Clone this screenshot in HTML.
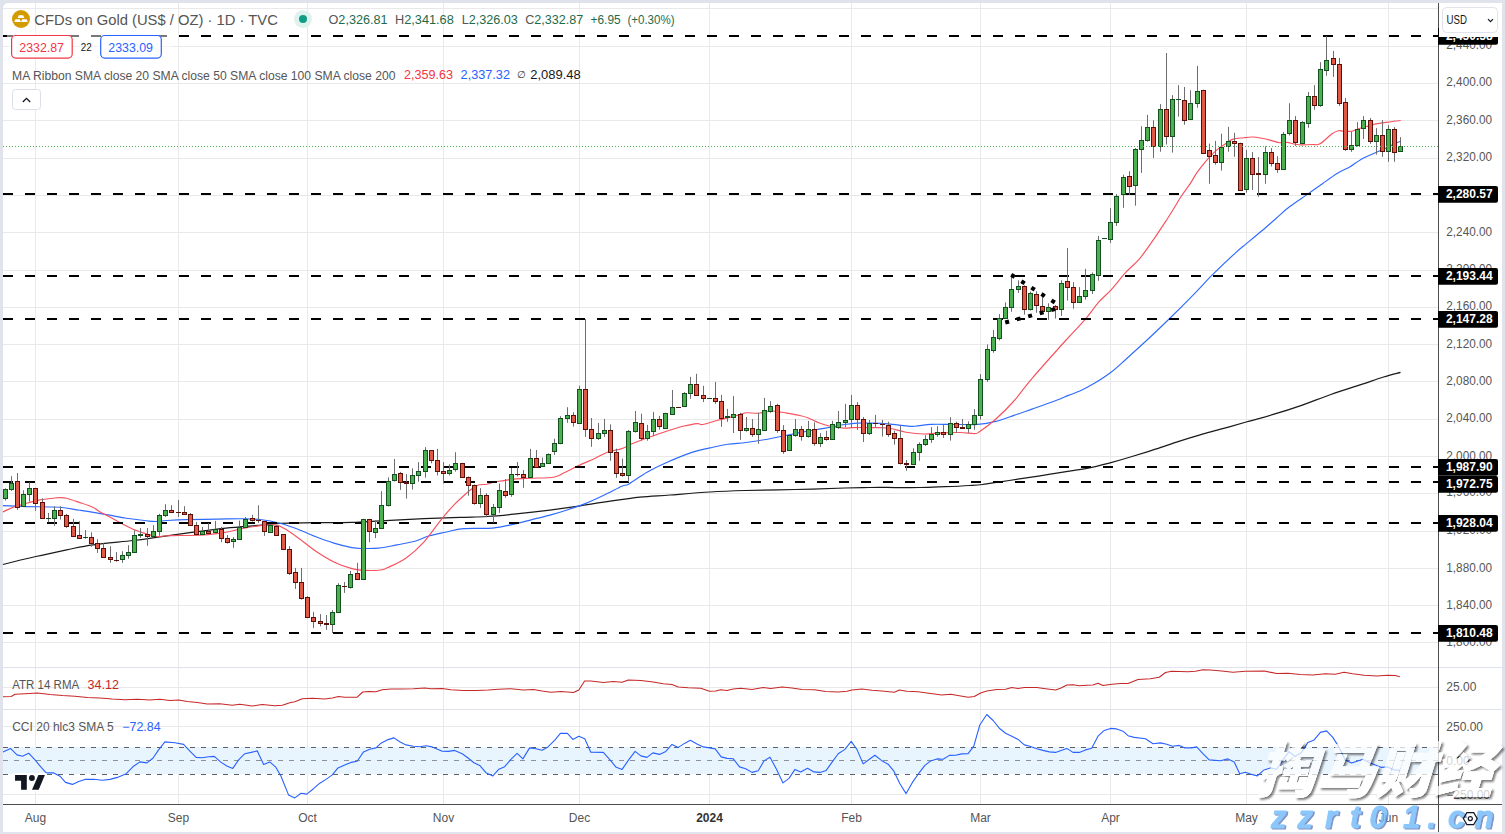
<!DOCTYPE html>
<html><head><meta charset="utf-8"><title>CFDs on Gold</title>
<style>
html,body{margin:0;padding:0}
body{width:1505px;height:834px;overflow:hidden;background:#e0e3eb;position:relative;font-family:"Liberation Sans","Noto Sans CJK SC",sans-serif}
#card{position:absolute;left:3px;top:3px;width:1499px;height:829px;background:#fff;border-radius:5px 5px 0 0}
svg{position:absolute;left:0;top:0}
</style></head><body>
<div id="card"></div>
<svg width="1505" height="834" viewBox="0 0 1505 834" shape-rendering="auto">
<line x1="3" x2="1438" y1="642.5" y2="642.5" stroke="#e9e9ea"/>
<line x1="3" x2="1438" y1="605.5" y2="605.5" stroke="#e9e9ea"/>
<line x1="3" x2="1438" y1="568.5" y2="568.5" stroke="#e9e9ea"/>
<line x1="3" x2="1438" y1="531.5" y2="531.5" stroke="#e9e9ea"/>
<line x1="3" x2="1438" y1="493.5" y2="493.5" stroke="#e9e9ea"/>
<line x1="3" x2="1438" y1="456.5" y2="456.5" stroke="#e9e9ea"/>
<line x1="3" x2="1438" y1="419.5" y2="419.5" stroke="#e9e9ea"/>
<line x1="3" x2="1438" y1="381.5" y2="381.5" stroke="#e9e9ea"/>
<line x1="3" x2="1438" y1="344.5" y2="344.5" stroke="#e9e9ea"/>
<line x1="3" x2="1438" y1="307.5" y2="307.5" stroke="#e9e9ea"/>
<line x1="3" x2="1438" y1="270.5" y2="270.5" stroke="#e9e9ea"/>
<line x1="3" x2="1438" y1="232.5" y2="232.5" stroke="#e9e9ea"/>
<line x1="3" x2="1438" y1="195.5" y2="195.5" stroke="#e9e9ea"/>
<line x1="3" x2="1438" y1="158.5" y2="158.5" stroke="#e9e9ea"/>
<line x1="3" x2="1438" y1="120.5" y2="120.5" stroke="#e9e9ea"/>
<line x1="3" x2="1438" y1="83.5" y2="83.5" stroke="#e9e9ea"/>
<line x1="3" x2="1438" y1="46.5" y2="46.5" stroke="#e9e9ea"/>
<line x1="3" x2="1438" y1="8.5" y2="8.5" stroke="#e9e9ea"/>
<line x1="3" x2="1438" y1="687.5" y2="687.5" stroke="#e9e9ea"/>
<line x1="3" x2="1438" y1="726.5" y2="726.5" stroke="#e9e9ea"/>
<line x1="3" x2="1438" y1="794.5" y2="794.5" stroke="#e9e9ea"/>
<line x1="35.5" x2="35.5" y1="3" y2="804" stroke="#e9e9ea"/>
<line x1="178.5" x2="178.5" y1="3" y2="804" stroke="#e9e9ea"/>
<line x1="307.5" x2="307.5" y1="3" y2="804" stroke="#e9e9ea"/>
<line x1="443.5" x2="443.5" y1="3" y2="804" stroke="#e9e9ea"/>
<line x1="579.5" x2="579.5" y1="3" y2="804" stroke="#e9e9ea"/>
<line x1="709.5" x2="709.5" y1="3" y2="804" stroke="#e9e9ea"/>
<line x1="851.5" x2="851.5" y1="3" y2="804" stroke="#e9e9ea"/>
<line x1="980.5" x2="980.5" y1="3" y2="804" stroke="#e9e9ea"/>
<line x1="1110.5" x2="1110.5" y1="3" y2="804" stroke="#e9e9ea"/>
<line x1="1246.5" x2="1246.5" y1="3" y2="804" stroke="#e9e9ea"/>
<line x1="1388.5" x2="1388.5" y1="3" y2="804" stroke="#e9e9ea"/>
<line x1="3" x2="1502" y1="667.5" y2="667.5" stroke="#dfe2ea"/>
<line x1="3" x2="1502" y1="709.5" y2="709.5" stroke="#dfe2ea"/>
<rect x="3" y="747" width="1435" height="27" fill="#e8f4fe"/>
<line x1="3" x2="1438" y1="747.5" y2="747.5" stroke="#5d606b" stroke-width="1" stroke-dasharray="5 6"/>
<line x1="3" x2="1438" y1="760.5" y2="760.5" stroke="#8d9098" stroke-width="1" stroke-dasharray="5 6"/>
<line x1="3" x2="1438" y1="774.5" y2="774.5" stroke="#5d606b" stroke-width="1" stroke-dasharray="5 6"/>
<path d="M2.9 564.5 C8.4 563.1 25.3 558.9 35.9 556.5 C46.5 554.0 57.0 551.8 66.5 549.8 C76.1 547.9 82.1 546.3 93.1 544.8 C104.2 543.2 122.0 541.8 133.1 540.5 C144.2 539.2 150.2 538.2 159.7 536.9 C169.2 535.6 179.0 534.1 190.0 532.6 C201.0 531.2 214.0 529.4 226.0 528.1 C238.0 526.9 252.9 525.9 261.9 525.1 C270.9 524.3 270.9 523.7 279.9 523.3 C288.9 522.9 303.9 522.9 315.9 522.7 C327.9 522.6 341.1 522.7 351.9 522.4 C362.7 522.1 368.8 521.5 380.8 520.9 C392.8 520.3 410.8 519.3 424.0 518.7 C437.1 518.1 449.4 517.6 459.9 517.3 C470.4 516.9 477.9 517.1 486.9 516.5 C495.9 516.0 503.4 515.3 513.9 514.2 C524.4 513.1 539.1 511.4 549.9 510.1 C560.6 508.7 569.6 507.4 578.6 506.1 C587.6 504.8 593.6 503.7 603.8 502.2 C614.0 500.7 628.8 498.3 639.8 497.1 C650.8 495.9 658.3 495.9 670.0 495.0 C681.7 494.1 697.5 492.8 710.0 492.0 C722.5 491.2 730.8 490.9 745.0 490.5 C759.2 490.1 778.3 489.9 795.0 489.5 C811.7 489.1 832.5 488.3 845.0 488.0 C857.5 487.7 861.7 487.6 870.0 487.5 C878.3 487.4 886.7 487.5 895.0 487.5 C903.3 487.5 911.7 487.6 920.0 487.5 C928.3 487.4 936.7 487.0 945.0 486.7 C953.3 486.4 963.8 485.9 970.0 485.5 C976.2 485.1 978.2 485.0 982.5 484.5 C986.8 484.0 991.5 483.2 996.0 482.5 C1000.5 481.8 1002.1 481.6 1009.2 480.5 C1016.3 479.4 1028.8 477.6 1038.5 476.1 C1048.2 474.6 1059.4 472.7 1067.7 471.4 C1076.0 470.1 1081.1 469.6 1088.2 468.2 C1095.3 466.8 1102.8 464.8 1110.1 462.9 C1117.4 460.9 1124.5 458.8 1132.0 456.5 C1139.5 454.2 1147.6 451.7 1155.4 449.2 C1163.2 446.7 1171.5 443.6 1178.8 441.3 C1186.1 439.0 1192.0 437.2 1199.3 435.1 C1206.6 433.0 1214.9 430.9 1222.7 428.7 C1230.5 426.5 1237.8 424.3 1246.1 422.0 C1254.4 419.7 1263.2 417.5 1272.4 414.7 C1281.7 411.9 1291.8 408.7 1301.6 405.3 C1311.3 401.9 1321.2 397.9 1330.9 394.5 C1340.7 391.1 1351.3 387.8 1360.1 384.9 C1368.9 382.0 1376.8 379.1 1383.5 377.0 C1390.2 374.9 1397.7 373.1 1400.5 372.3" fill="none" stroke="#1a1a1a" stroke-width="1.25" stroke-linejoin="round" />
<path d="M2.9 505.6 C6.9 505.8 17.1 506.3 26.6 506.6 C36.1 506.8 51.0 506.6 59.9 507.2 C68.8 507.9 72.1 509.1 79.8 510.3 C87.6 511.5 98.7 513.2 106.5 514.6 C114.2 515.9 119.8 517.2 126.4 518.3 C133.1 519.3 141.5 520.3 146.4 520.8 C151.3 521.3 152.4 521.5 155.7 521.5 C159.0 521.4 161.2 520.9 166.3 520.5 C171.4 520.2 177.9 519.8 186.3 519.6 C194.7 519.4 207.4 519.3 217.0 519.1 C226.6 519.0 236.5 518.7 244.0 518.8 C251.5 518.9 255.9 518.9 261.9 519.7 C267.9 520.4 273.9 521.7 279.9 523.3 C285.9 524.9 291.9 527.0 297.9 529.2 C303.9 531.5 309.9 534.5 315.9 536.8 C321.9 539.1 327.9 541.3 333.9 543.1 C339.9 544.9 347.1 546.7 351.9 547.6 C356.7 548.5 358.2 548.4 362.7 548.5 C367.2 548.5 373.2 548.7 378.8 548.1 C384.5 547.5 390.8 546.0 396.8 544.9 C402.8 543.7 409.4 542.8 414.8 541.3 C420.2 539.7 424.2 537.3 429.4 535.8 C434.5 534.3 439.8 533.4 445.5 532.2 C451.2 531.0 455.7 529.3 463.5 528.6 C471.3 527.9 483.9 528.8 492.3 528.1 C500.7 527.3 507.3 525.5 513.9 524.1 C520.5 522.7 525.9 521.1 531.9 519.6 C537.9 518.1 543.9 516.8 549.9 515.1 C555.9 513.5 561.8 511.7 567.8 509.7 C573.8 507.8 579.8 505.8 585.8 503.4 C591.8 501.0 597.8 498.2 603.8 495.3 C609.8 492.5 617.6 488.2 621.8 486.3 C626.0 484.4 624.8 486.2 629.0 483.9 C633.2 481.5 641.0 475.6 647.0 472.2 C653.0 468.7 657.5 466.5 665.0 463.2 C672.5 459.9 684.4 455.0 691.9 452.4 C699.4 449.9 703.9 449.3 709.9 447.9 C715.9 446.6 721.9 445.2 727.9 444.3 C733.9 443.4 739.9 443.3 745.9 442.5 C751.9 441.8 757.9 440.9 763.9 439.8 C769.9 438.8 775.9 437.4 781.9 436.2 C787.9 435.0 793.9 433.8 799.9 432.6 C805.9 431.5 812.7 430.3 817.8 429.4 C822.9 428.5 825.9 428.0 830.4 427.2 C834.9 426.4 840.3 425.2 844.8 424.5 C849.3 423.8 852.9 423.3 857.4 423.1 C861.9 422.9 866.7 423.0 871.8 423.1 C876.9 423.2 882.3 423.4 888.0 423.9 C893.7 424.3 901.5 425.5 906.0 425.9 C910.5 426.3 910.8 426.5 915.0 426.2 C919.2 426.0 925.2 424.7 931.2 424.4 C937.1 424.1 943.1 424.4 950.9 424.4 C958.7 424.4 970.4 424.9 977.9 424.4 C985.4 423.9 989.9 422.9 995.9 421.4 C1001.9 419.9 1007.9 417.5 1013.9 415.4 C1019.9 413.4 1025.9 411.2 1031.9 409.1 C1037.9 407.0 1043.9 405.1 1049.9 402.8 C1055.9 400.6 1062.7 397.7 1067.8 395.6 C1072.9 393.6 1075.9 392.9 1080.4 390.8 C1084.9 388.7 1089.7 386.1 1094.8 383.1 C1099.9 380.0 1105.9 376.2 1111.0 372.3 C1116.1 368.4 1119.4 365.1 1125.4 359.7 C1131.4 354.3 1139.8 346.7 1147.1 340.0 C1154.3 333.3 1160.8 327.1 1168.6 319.5 C1176.4 311.9 1186.6 301.7 1193.8 294.3 C1201.0 287.0 1204.9 282.3 1211.8 275.4 C1218.7 268.6 1229.2 258.6 1235.0 253.3 C1240.8 248.0 1242.2 247.2 1246.7 243.4 C1251.2 239.7 1257.0 235.0 1261.9 230.8 C1266.8 226.6 1271.7 222.2 1276.3 218.2 C1280.9 214.1 1284.4 210.6 1289.8 206.5 C1295.2 202.4 1303.2 197.3 1308.7 193.4 C1314.2 189.5 1318.3 186.5 1323.1 183.2 C1327.9 179.8 1333.1 176.0 1337.5 173.3 C1341.9 170.6 1346.6 168.8 1349.7 167.0 C1352.8 165.2 1353.6 164.2 1356.0 162.7 C1358.4 161.2 1360.7 159.5 1364.0 157.8 C1367.3 156.1 1372.7 154.1 1376.0 152.6 C1379.3 151.1 1381.3 150.3 1384.0 149.0 C1386.7 147.7 1389.3 146.3 1392.0 145.0 C1394.7 143.7 1398.7 142.0 1400.0 141.4" fill="none" stroke="#2f6bff" stroke-width="1.15" stroke-linejoin="round" />
<path d="M2.9 511.9 C4.7 511.1 9.4 508.7 13.3 507.2 C17.3 505.8 22.2 504.5 26.6 503.2 C31.0 502.0 35.5 500.8 39.9 499.9 C44.4 499.1 49.9 498.6 53.2 498.2 C56.6 497.8 57.7 497.6 59.9 497.7 C62.1 497.7 63.2 497.5 66.5 498.3 C69.9 499.1 75.4 501.1 79.8 502.6 C84.3 504.1 89.6 505.8 93.1 507.5 C96.7 509.2 98.9 511.3 101.1 512.6 C103.3 513.8 103.3 513.6 106.5 515.2 C109.6 516.9 115.3 520.2 119.8 522.5 C124.2 524.9 128.6 527.3 133.1 529.2 C137.5 531.1 142.4 532.6 146.4 533.9 C150.4 535.1 153.7 536.2 157.0 536.5 C160.3 536.8 162.6 536.0 166.3 535.8 C170.1 535.7 175.7 535.5 179.6 535.4 C183.6 535.4 185.3 535.6 190.0 535.5 C194.7 535.4 202.0 535.1 208.0 534.6 C214.0 534.1 220.0 533.3 226.0 532.3 C232.0 531.2 238.0 529.4 244.0 528.3 C250.0 527.2 256.5 526.0 261.9 525.4 C267.3 524.9 272.7 524.6 276.3 525.1 C279.9 525.5 279.9 526.0 283.5 528.1 C287.1 530.2 292.5 533.8 297.9 537.7 C303.3 541.5 309.9 547.1 315.9 551.2 C321.9 555.2 327.9 559.0 333.9 561.9 C339.9 564.9 346.8 567.2 351.9 568.6 C357.0 570.0 359.7 570.2 364.5 570.4 C369.3 570.6 376.8 570.5 380.6 570.0 C384.5 569.6 383.6 569.5 387.8 567.5 C392.0 565.6 399.8 562.6 405.8 558.3 C411.8 554.1 417.8 548.8 423.8 542.2 C429.8 535.6 436.7 525.1 441.8 518.8 C446.9 512.5 450.3 508.7 454.5 504.3 C458.8 500.0 464.0 495.4 467.1 492.6 C470.2 489.9 471.3 489.2 473.2 487.9 C475.2 486.7 476.4 485.6 478.6 485.0 C480.9 484.4 484.0 484.7 486.9 484.2 C489.8 483.6 491.4 482.7 495.9 481.8 C500.4 481.0 507.9 479.7 513.9 479.1 C519.9 478.5 525.3 478.5 531.9 478.2 C538.5 477.9 548.1 478.2 553.5 477.3 C558.8 476.4 560.0 474.8 564.2 472.8 C568.4 470.9 573.5 468.0 578.6 465.6 C583.7 463.2 590.0 460.7 594.8 458.5 C599.6 456.2 602.9 453.8 607.4 452.2 C611.9 450.5 617.9 449.9 621.8 448.6 C625.7 447.3 626.6 446.1 630.8 444.3 C635.0 442.6 641.3 440.1 647.0 438.0 C652.7 435.9 659.0 433.7 665.0 431.7 C671.0 429.8 677.6 427.7 682.9 426.3 C688.3 425.0 694.0 423.9 697.3 423.6 C700.6 423.3 699.1 425.1 702.7 424.5 C706.3 423.9 713.2 421.5 718.9 420.0 C724.6 418.5 732.4 416.7 736.9 415.5 C741.4 414.3 742.3 413.2 745.9 412.8 C749.5 412.5 754.0 413.5 758.5 413.2 C763.0 412.9 769.0 411.2 772.9 411.0 C776.8 410.9 777.4 411.6 781.9 412.3 C786.4 413.1 795.4 414.6 799.9 415.5 C804.4 416.5 805.9 417.1 808.8 418.2 C811.8 419.4 814.2 421.0 817.8 422.4 C821.4 423.7 825.9 425.4 830.4 426.3 C834.9 427.3 840.9 427.9 844.8 428.1 C848.7 428.3 849.3 427.7 853.8 427.6 C858.3 427.5 866.1 427.5 871.8 427.6 C877.5 427.7 882.3 427.3 888.0 428.0 C893.7 428.8 900.0 431.2 906.0 432.2 C912.0 433.1 918.0 433.8 924.0 434.0 C930.0 434.1 935.9 433.1 941.9 432.9 C947.9 432.6 954.5 432.4 959.9 432.5 C965.3 432.6 971.0 433.7 974.3 433.6 C977.6 433.4 976.1 434.0 979.7 431.6 C983.3 429.2 990.2 424.1 995.9 419.0 C1001.6 413.9 1007.9 407.8 1013.9 401.0 C1019.9 394.3 1023.2 388.7 1031.9 378.6 C1040.6 368.4 1057.1 350.0 1066.1 340.0 C1075.1 330.0 1080.5 324.9 1085.9 318.6 C1091.3 312.3 1094.3 307.2 1098.5 302.4 C1102.7 297.6 1106.6 294.8 1111.1 289.8 C1115.6 284.9 1120.7 278.0 1125.5 272.7 C1130.3 267.5 1135.1 264.0 1139.9 258.3 C1144.7 252.6 1149.7 245.0 1154.2 238.6 C1158.7 232.1 1163.2 225.2 1166.8 219.7 C1170.4 214.1 1173.5 209.1 1175.8 205.3 C1178.2 201.5 1178.6 200.2 1180.9 196.7 C1183.3 193.2 1187.2 188.1 1189.9 184.1 C1192.6 180.1 1194.1 176.6 1197.1 172.4 C1200.1 168.2 1204.6 162.7 1207.9 158.9 C1211.2 155.2 1213.9 152.5 1216.9 149.9 C1219.9 147.4 1223.2 145.4 1225.9 143.6 C1228.6 141.8 1230.1 140.1 1233.1 139.1 C1236.1 138.1 1240.6 138.1 1243.9 137.7 C1247.2 137.3 1249.9 136.9 1252.9 137.0 C1255.9 137.1 1258.9 137.7 1261.9 138.2 C1264.9 138.8 1267.9 139.6 1270.9 140.4 C1273.9 141.1 1277.2 142.4 1279.9 142.7 C1282.6 143.1 1284.7 142.2 1287.1 142.4 C1289.4 142.6 1291.8 143.6 1294.2 144.0 C1296.6 144.4 1298.4 144.8 1301.4 144.9 C1304.4 145.0 1309.1 144.7 1312.2 144.5 C1315.3 144.4 1316.7 145.6 1320.0 143.8 C1323.3 142.0 1328.9 135.9 1332.0 133.7 C1335.1 131.5 1336.6 131.1 1338.5 130.7 C1340.4 130.3 1341.0 131.1 1343.3 131.2 C1345.5 131.3 1349.9 131.4 1352.0 131.2 C1354.1 130.9 1354.4 130.3 1356.0 129.7 C1357.6 129.1 1359.8 128.3 1361.8 127.7 C1363.8 127.1 1365.6 126.7 1368.0 126.1 C1370.4 125.5 1372.7 124.6 1376.0 123.9 C1379.3 123.2 1383.9 122.7 1388.0 122.1 C1392.1 121.5 1398.6 120.8 1400.7 120.5" fill="none" stroke="#f7525f" stroke-width="1.15" stroke-linejoin="round" />
<line x1="3" x2="1438" y1="36" y2="36" stroke="#000" stroke-width="2" stroke-dasharray="10 12"/>
<line x1="3" x2="1438" y1="194" y2="194" stroke="#000" stroke-width="2" stroke-dasharray="10 12"/>
<line x1="3" x2="1438" y1="276" y2="276" stroke="#000" stroke-width="2" stroke-dasharray="10 12"/>
<line x1="3" x2="1438" y1="319" y2="319" stroke="#000" stroke-width="2" stroke-dasharray="10 12"/>
<line x1="3" x2="1438" y1="467" y2="467" stroke="#000" stroke-width="2" stroke-dasharray="10 12"/>
<line x1="3" x2="1438" y1="482" y2="482" stroke="#000" stroke-width="2" stroke-dasharray="10 12"/>
<line x1="3" x2="1438" y1="523" y2="523" stroke="#000" stroke-width="2" stroke-dasharray="10 12"/>
<line x1="3" x2="1438" y1="633" y2="633" stroke="#000" stroke-width="2" stroke-dasharray="10 12"/>
<line x1="5.5" x2="5.5" y1="488.3" y2="500.6" stroke="#6e6e70"/>
<rect x="3.5" y="489.5" width="4" height="9" fill="#4caf50" stroke="#14501f"/>
<line x1="11.5" x2="11.5" y1="476.2" y2="490.9" stroke="#6e6e70"/>
<rect x="9.5" y="483.5" width="4" height="6" fill="#4caf50" stroke="#14501f"/>
<line x1="17.5" x2="17.5" y1="473.0" y2="509.9" stroke="#6e6e70"/>
<rect x="15.5" y="481.5" width="4" height="26" fill="#df5946" stroke="#5a0f08"/>
<line x1="23.5" x2="23.5" y1="490.3" y2="507.0" stroke="#6e6e70"/>
<rect x="21.5" y="494.5" width="4" height="12" fill="#4caf50" stroke="#14501f"/>
<line x1="29.5" x2="29.5" y1="482.4" y2="501.5" stroke="#6e6e70"/>
<rect x="27.5" y="488.5" width="4" height="6" fill="#4caf50" stroke="#14501f"/>
<line x1="35.5" x2="35.5" y1="487.9" y2="510.8" stroke="#6e6e70"/>
<rect x="33.5" y="488.5" width="4" height="15" fill="#df5946" stroke="#5a0f08"/>
<line x1="42.5" x2="42.5" y1="498.3" y2="519.0" stroke="#6e6e70"/>
<rect x="40.5" y="502.5" width="4" height="16" fill="#df5946" stroke="#5a0f08"/>
<line x1="48.5" x2="48.5" y1="513.0" y2="522.3" stroke="#6e6e70"/>
<rect x="46" y="518" width="5" height="1" fill="#14501f"/>
<line x1="54.5" x2="54.5" y1="506.3" y2="525.9" stroke="#6e6e70"/>
<rect x="52.5" y="510.5" width="4" height="8" fill="#4caf50" stroke="#14501f"/>
<line x1="60.5" x2="60.5" y1="506.3" y2="519.6" stroke="#6e6e70"/>
<rect x="58.5" y="510.5" width="4" height="5" fill="#df5946" stroke="#5a0f08"/>
<line x1="66.5" x2="66.5" y1="513.9" y2="527.9" stroke="#6e6e70"/>
<rect x="64.5" y="515.5" width="4" height="11" fill="#df5946" stroke="#5a0f08"/>
<line x1="73.5" x2="73.5" y1="518.9" y2="537.0" stroke="#6e6e70"/>
<rect x="71.5" y="526.5" width="4" height="10" fill="#df5946" stroke="#5a0f08"/>
<line x1="79.5" x2="79.5" y1="521.2" y2="539.0" stroke="#6e6e70"/>
<rect x="77.5" y="535.5" width="4" height="3" fill="#df5946" stroke="#5a0f08"/>
<line x1="85.5" x2="85.5" y1="530.1" y2="538.8" stroke="#6e6e70"/>
<rect x="83" y="537" width="5" height="1" fill="#14501f"/>
<line x1="91.5" x2="91.5" y1="532.3" y2="546.8" stroke="#6e6e70"/>
<rect x="89.5" y="537.5" width="4" height="6" fill="#df5946" stroke="#5a0f08"/>
<line x1="97.5" x2="97.5" y1="539.2" y2="552.9" stroke="#6e6e70"/>
<rect x="95.5" y="543.5" width="4" height="5" fill="#df5946" stroke="#5a0f08"/>
<line x1="103.5" x2="103.5" y1="543.2" y2="558.0" stroke="#6e6e70"/>
<rect x="101.5" y="548.5" width="4" height="9" fill="#df5946" stroke="#5a0f08"/>
<line x1="110.5" x2="110.5" y1="546.2" y2="562.9" stroke="#6e6e70"/>
<rect x="108.5" y="557.5" width="4" height="2" fill="#df5946" stroke="#5a0f08"/>
<line x1="116.5" x2="116.5" y1="552.1" y2="561.8" stroke="#6e6e70"/>
<rect x="114" y="560" width="5" height="1" fill="#5a0f08"/>
<line x1="122.5" x2="122.5" y1="551.2" y2="562.9" stroke="#6e6e70"/>
<rect x="120.5" y="555.5" width="4" height="4" fill="#4caf50" stroke="#14501f"/>
<line x1="128.5" x2="128.5" y1="545.2" y2="558.7" stroke="#6e6e70"/>
<rect x="126.5" y="552.5" width="4" height="3" fill="#4caf50" stroke="#14501f"/>
<line x1="134.5" x2="134.5" y1="530.3" y2="553.0" stroke="#6e6e70"/>
<rect x="132.5" y="535.5" width="4" height="17" fill="#4caf50" stroke="#14501f"/>
<line x1="140.5" x2="140.5" y1="528.1" y2="537.8" stroke="#6e6e70"/>
<rect x="138" y="534" width="5" height="2" fill="#14501f"/>
<line x1="147.5" x2="147.5" y1="528.1" y2="545.8" stroke="#6e6e70"/>
<rect x="145.5" y="534.5" width="4" height="2" fill="#df5946" stroke="#5a0f08"/>
<line x1="153.5" x2="153.5" y1="525.2" y2="537.0" stroke="#6e6e70"/>
<rect x="151.5" y="531.5" width="4" height="5" fill="#4caf50" stroke="#14501f"/>
<line x1="159.5" x2="159.5" y1="513.9" y2="535.8" stroke="#6e6e70"/>
<rect x="157.5" y="515.5" width="4" height="16" fill="#4caf50" stroke="#14501f"/>
<line x1="165.5" x2="165.5" y1="504.2" y2="517.0" stroke="#6e6e70"/>
<rect x="163.5" y="510.5" width="4" height="5" fill="#4caf50" stroke="#14501f"/>
<line x1="171.5" x2="171.5" y1="505.2" y2="513.0" stroke="#6e6e70"/>
<rect x="169.5" y="510.5" width="4" height="2" fill="#df5946" stroke="#5a0f08"/>
<line x1="178.5" x2="178.5" y1="499.9" y2="517.0" stroke="#6e6e70"/>
<rect x="176" y="512" width="5" height="1" fill="#5a0f08"/>
<line x1="184.5" x2="184.5" y1="506.2" y2="515.0" stroke="#6e6e70"/>
<rect x="182.5" y="512.5" width="4" height="2" fill="#df5946" stroke="#5a0f08"/>
<line x1="190.5" x2="190.5" y1="513.0" y2="526.0" stroke="#6e6e70"/>
<rect x="188.5" y="514.5" width="4" height="11" fill="#df5946" stroke="#5a0f08"/>
<line x1="196.5" x2="196.5" y1="522.0" y2="535.0" stroke="#6e6e70"/>
<rect x="194.5" y="525.5" width="4" height="9" fill="#df5946" stroke="#5a0f08"/>
<line x1="202.5" x2="202.5" y1="526.9" y2="535.0" stroke="#6e6e70"/>
<rect x="200.5" y="531.5" width="4" height="3" fill="#4caf50" stroke="#14501f"/>
<line x1="208.5" x2="208.5" y1="523.3" y2="534.1" stroke="#6e6e70"/>
<rect x="206.5" y="531.5" width="4" height="2" fill="#df5946" stroke="#5a0f08"/>
<line x1="215.5" x2="215.5" y1="520.9" y2="533.2" stroke="#6e6e70"/>
<rect x="213.5" y="529.5" width="4" height="3" fill="#4caf50" stroke="#14501f"/>
<line x1="221.5" x2="221.5" y1="526.9" y2="542.2" stroke="#6e6e70"/>
<rect x="219.5" y="529.5" width="4" height="9" fill="#df5946" stroke="#5a0f08"/>
<line x1="227.5" x2="227.5" y1="535.0" y2="543.6" stroke="#6e6e70"/>
<rect x="225.5" y="538.5" width="4" height="4" fill="#df5946" stroke="#5a0f08"/>
<line x1="233.5" x2="233.5" y1="537.1" y2="547.9" stroke="#6e6e70"/>
<rect x="231.5" y="539.5" width="4" height="2" fill="#4caf50" stroke="#14501f"/>
<line x1="239.5" x2="239.5" y1="520.6" y2="540.0" stroke="#6e6e70"/>
<rect x="237.5" y="527.5" width="4" height="12" fill="#4caf50" stroke="#14501f"/>
<line x1="245.5" x2="245.5" y1="517.0" y2="528.0" stroke="#6e6e70"/>
<rect x="243.5" y="519.5" width="4" height="8" fill="#4caf50" stroke="#14501f"/>
<line x1="252.5" x2="252.5" y1="514.8" y2="521.5" stroke="#6e6e70"/>
<rect x="250.5" y="518.5" width="4" height="2" fill="#df5946" stroke="#5a0f08"/>
<line x1="258.5" x2="258.5" y1="505.3" y2="522.9" stroke="#6e6e70"/>
<rect x="256" y="520" width="5" height="1" fill="#5a0f08"/>
<line x1="264.5" x2="264.5" y1="520.9" y2="535.9" stroke="#6e6e70"/>
<rect x="262.5" y="521.5" width="4" height="10" fill="#df5946" stroke="#5a0f08"/>
<line x1="270.5" x2="270.5" y1="524.2" y2="533.0" stroke="#6e6e70"/>
<rect x="268.5" y="525.5" width="4" height="7" fill="#4caf50" stroke="#14501f"/>
<line x1="276.5" x2="276.5" y1="525.1" y2="536.0" stroke="#6e6e70"/>
<rect x="274.5" y="526.5" width="4" height="9" fill="#df5946" stroke="#5a0f08"/>
<line x1="283.5" x2="283.5" y1="534.0" y2="550.0" stroke="#6e6e70"/>
<rect x="281.5" y="534.5" width="4" height="15" fill="#df5946" stroke="#5a0f08"/>
<line x1="289.5" x2="289.5" y1="546.1" y2="574.9" stroke="#6e6e70"/>
<rect x="287.5" y="549.5" width="4" height="24" fill="#df5946" stroke="#5a0f08"/>
<line x1="295.5" x2="295.5" y1="567.9" y2="588.9" stroke="#6e6e70"/>
<rect x="293.5" y="572.5" width="4" height="10" fill="#df5946" stroke="#5a0f08"/>
<line x1="301.5" x2="301.5" y1="567.9" y2="599.7" stroke="#6e6e70"/>
<rect x="299.5" y="582.5" width="4" height="16" fill="#df5946" stroke="#5a0f08"/>
<line x1="307.5" x2="307.5" y1="596.1" y2="618.1" stroke="#6e6e70"/>
<rect x="305.5" y="597.5" width="4" height="20" fill="#df5946" stroke="#5a0f08"/>
<line x1="313.5" x2="313.5" y1="611.9" y2="628.1" stroke="#6e6e70"/>
<rect x="311.5" y="617.5" width="4" height="4" fill="#df5946" stroke="#5a0f08"/>
<line x1="320.5" x2="320.5" y1="614.1" y2="626.3" stroke="#6e6e70"/>
<rect x="318.5" y="621.5" width="4" height="2" fill="#df5946" stroke="#5a0f08"/>
<line x1="326.5" x2="326.5" y1="615.0" y2="629.9" stroke="#6e6e70"/>
<rect x="324" y="623" width="5" height="2" fill="#5a0f08"/>
<line x1="332.5" x2="332.5" y1="610.1" y2="633.0" stroke="#6e6e70"/>
<rect x="330.5" y="612.5" width="4" height="12" fill="#4caf50" stroke="#14501f"/>
<line x1="338.5" x2="338.5" y1="583.2" y2="613.2" stroke="#6e6e70"/>
<rect x="336.5" y="585.5" width="4" height="27" fill="#4caf50" stroke="#14501f"/>
<line x1="344.5" x2="344.5" y1="582.1" y2="592.9" stroke="#6e6e70"/>
<rect x="342" y="586" width="5" height="1" fill="#5a0f08"/>
<line x1="350.5" x2="350.5" y1="570.9" y2="588.6" stroke="#6e6e70"/>
<rect x="348.5" y="574.5" width="4" height="13" fill="#4caf50" stroke="#14501f"/>
<line x1="357.5" x2="357.5" y1="562.8" y2="580.0" stroke="#6e6e70"/>
<rect x="355.5" y="573.5" width="4" height="6" fill="#df5946" stroke="#5a0f08"/>
<line x1="363.5" x2="363.5" y1="518.8" y2="580.0" stroke="#6e6e70"/>
<rect x="361.5" y="519.5" width="4" height="60" fill="#4caf50" stroke="#14501f"/>
<line x1="369.5" x2="369.5" y1="518.8" y2="542.2" stroke="#6e6e70"/>
<rect x="367.5" y="519.5" width="4" height="12" fill="#df5946" stroke="#5a0f08"/>
<line x1="375.5" x2="375.5" y1="520.1" y2="538.1" stroke="#6e6e70"/>
<rect x="373.5" y="528.5" width="4" height="4" fill="#4caf50" stroke="#14501f"/>
<line x1="381.5" x2="381.5" y1="491.2" y2="529.0" stroke="#6e6e70"/>
<rect x="379.5" y="505.5" width="4" height="23" fill="#4caf50" stroke="#14501f"/>
<line x1="388.5" x2="388.5" y1="477.3" y2="506.5" stroke="#6e6e70"/>
<rect x="386.5" y="481.5" width="4" height="24" fill="#4caf50" stroke="#14501f"/>
<line x1="394.5" x2="394.5" y1="459.0" y2="481.5" stroke="#6e6e70"/>
<rect x="392.5" y="474.5" width="4" height="6" fill="#4caf50" stroke="#14501f"/>
<line x1="400.5" x2="400.5" y1="471.9" y2="489.9" stroke="#6e6e70"/>
<rect x="398.5" y="473.5" width="4" height="9" fill="#df5946" stroke="#5a0f08"/>
<line x1="406.5" x2="406.5" y1="474.1" y2="498.6" stroke="#6e6e70"/>
<rect x="404" y="482" width="5" height="2" fill="#5a0f08"/>
<line x1="412.5" x2="412.5" y1="468.3" y2="489.6" stroke="#6e6e70"/>
<rect x="410.5" y="475.5" width="4" height="8" fill="#4caf50" stroke="#14501f"/>
<line x1="418.5" x2="418.5" y1="462.1" y2="481.8" stroke="#6e6e70"/>
<rect x="416.5" y="471.5" width="4" height="4" fill="#4caf50" stroke="#14501f"/>
<line x1="425.5" x2="425.5" y1="447.1" y2="477.7" stroke="#6e6e70"/>
<rect x="423.5" y="450.5" width="4" height="21" fill="#4caf50" stroke="#14501f"/>
<line x1="431.5" x2="431.5" y1="450.0" y2="463.3" stroke="#6e6e70"/>
<rect x="429.5" y="450.5" width="4" height="10" fill="#df5946" stroke="#5a0f08"/>
<line x1="437.5" x2="437.5" y1="448.9" y2="475.5" stroke="#6e6e70"/>
<rect x="435.5" y="460.5" width="4" height="11" fill="#df5946" stroke="#5a0f08"/>
<line x1="443.5" x2="443.5" y1="462.1" y2="483.6" stroke="#6e6e70"/>
<rect x="441.5" y="471.5" width="4" height="2" fill="#df5946" stroke="#5a0f08"/>
<line x1="449.5" x2="449.5" y1="464.4" y2="475.5" stroke="#6e6e70"/>
<rect x="447.5" y="470.5" width="4" height="3" fill="#4caf50" stroke="#14501f"/>
<line x1="455.5" x2="455.5" y1="452.2" y2="471.6" stroke="#6e6e70"/>
<rect x="453.5" y="463.5" width="4" height="6" fill="#4caf50" stroke="#14501f"/>
<line x1="462.5" x2="462.5" y1="462.9" y2="478.0" stroke="#6e6e70"/>
<rect x="460.5" y="463.5" width="4" height="14" fill="#df5946" stroke="#5a0f08"/>
<line x1="468.5" x2="468.5" y1="476.4" y2="495.7" stroke="#6e6e70"/>
<rect x="466.5" y="477.5" width="4" height="8" fill="#df5946" stroke="#5a0f08"/>
<line x1="474.5" x2="474.5" y1="484.5" y2="504.7" stroke="#6e6e70"/>
<rect x="472.5" y="485.5" width="4" height="18" fill="#df5946" stroke="#5a0f08"/>
<line x1="480.5" x2="480.5" y1="488.1" y2="507.9" stroke="#6e6e70"/>
<rect x="478.5" y="495.5" width="4" height="8" fill="#4caf50" stroke="#14501f"/>
<line x1="486.5" x2="486.5" y1="493.2" y2="517.3" stroke="#6e6e70"/>
<rect x="484.5" y="495.5" width="4" height="19" fill="#df5946" stroke="#5a0f08"/>
<line x1="493.5" x2="493.5" y1="504.0" y2="522.7" stroke="#6e6e70"/>
<rect x="491.5" y="507.5" width="4" height="7" fill="#4caf50" stroke="#14501f"/>
<line x1="499.5" x2="499.5" y1="483.6" y2="512.9" stroke="#6e6e70"/>
<rect x="497.5" y="490.5" width="4" height="17" fill="#4caf50" stroke="#14501f"/>
<line x1="505.5" x2="505.5" y1="479.1" y2="497.7" stroke="#6e6e70"/>
<rect x="503.5" y="491.5" width="4" height="4" fill="#df5946" stroke="#5a0f08"/>
<line x1="511.5" x2="511.5" y1="468.0" y2="496.8" stroke="#6e6e70"/>
<rect x="509.5" y="474.5" width="4" height="20" fill="#4caf50" stroke="#14501f"/>
<line x1="517.5" x2="517.5" y1="462.1" y2="476.4" stroke="#6e6e70"/>
<rect x="515" y="474" width="5" height="1" fill="#5a0f08"/>
<line x1="523.5" x2="523.5" y1="470.1" y2="487.8" stroke="#6e6e70"/>
<rect x="521.5" y="474.5" width="4" height="3" fill="#df5946" stroke="#5a0f08"/>
<line x1="530.5" x2="530.5" y1="448.9" y2="478.0" stroke="#6e6e70"/>
<rect x="528.5" y="458.5" width="4" height="19" fill="#4caf50" stroke="#14501f"/>
<line x1="536.5" x2="536.5" y1="450.0" y2="468.0" stroke="#6e6e70"/>
<rect x="534.5" y="458.5" width="4" height="9" fill="#df5946" stroke="#5a0f08"/>
<line x1="542.5" x2="542.5" y1="457.6" y2="467.0" stroke="#6e6e70"/>
<rect x="540.5" y="463.5" width="4" height="3" fill="#4caf50" stroke="#14501f"/>
<line x1="548.5" x2="548.5" y1="453.4" y2="464.0" stroke="#6e6e70"/>
<rect x="546.5" y="454.5" width="4" height="9" fill="#4caf50" stroke="#14501f"/>
<line x1="554.5" x2="554.5" y1="438.7" y2="454.9" stroke="#6e6e70"/>
<rect x="552.5" y="443.5" width="4" height="8" fill="#4caf50" stroke="#14501f"/>
<line x1="560.5" x2="560.5" y1="416.2" y2="444.2" stroke="#6e6e70"/>
<rect x="558.5" y="418.5" width="4" height="25" fill="#4caf50" stroke="#14501f"/>
<line x1="567.5" x2="567.5" y1="407.2" y2="422.8" stroke="#6e6e70"/>
<rect x="565.5" y="415.5" width="4" height="3" fill="#4caf50" stroke="#14501f"/>
<line x1="573.5" x2="573.5" y1="412.2" y2="426.6" stroke="#6e6e70"/>
<rect x="571.5" y="415.5" width="4" height="7" fill="#df5946" stroke="#5a0f08"/>
<line x1="579.5" x2="579.5" y1="385.8" y2="424.0" stroke="#6e6e70"/>
<rect x="577.5" y="389.5" width="4" height="34" fill="#4caf50" stroke="#14501f"/>
<line x1="585.5" x2="585.5" y1="319.1" y2="436.9" stroke="#6e6e70"/>
<rect x="583.5" y="389.5" width="4" height="40" fill="#df5946" stroke="#5a0f08"/>
<line x1="591.5" x2="591.5" y1="418.0" y2="446.8" stroke="#6e6e70"/>
<rect x="589.5" y="429.5" width="4" height="9" fill="#df5946" stroke="#5a0f08"/>
<line x1="598.5" x2="598.5" y1="423.0" y2="439.9" stroke="#6e6e70"/>
<rect x="596.5" y="433.5" width="4" height="5" fill="#4caf50" stroke="#14501f"/>
<line x1="604.5" x2="604.5" y1="418.9" y2="436.9" stroke="#6e6e70"/>
<rect x="602.5" y="430.5" width="4" height="3" fill="#4caf50" stroke="#14501f"/>
<line x1="610.5" x2="610.5" y1="424.3" y2="460.8" stroke="#6e6e70"/>
<rect x="608.5" y="430.5" width="4" height="22" fill="#df5946" stroke="#5a0f08"/>
<line x1="616.5" x2="616.5" y1="448.6" y2="477.9" stroke="#6e6e70"/>
<rect x="614.5" y="452.5" width="4" height="21" fill="#df5946" stroke="#5a0f08"/>
<line x1="622.5" x2="622.5" y1="458.7" y2="476.7" stroke="#6e6e70"/>
<rect x="620.5" y="473.5" width="4" height="2" fill="#df5946" stroke="#5a0f08"/>
<line x1="628.5" x2="628.5" y1="429.9" y2="482.1" stroke="#6e6e70"/>
<rect x="626.5" y="431.5" width="4" height="44" fill="#4caf50" stroke="#14501f"/>
<line x1="635.5" x2="635.5" y1="411.0" y2="432.6" stroke="#6e6e70"/>
<rect x="633.5" y="422.5" width="4" height="9" fill="#4caf50" stroke="#14501f"/>
<line x1="641.5" x2="641.5" y1="413.7" y2="440.4" stroke="#6e6e70"/>
<rect x="639.5" y="423.5" width="4" height="15" fill="#df5946" stroke="#5a0f08"/>
<line x1="647.5" x2="647.5" y1="424.9" y2="440.7" stroke="#6e6e70"/>
<rect x="645.5" y="431.5" width="4" height="7" fill="#4caf50" stroke="#14501f"/>
<line x1="653.5" x2="653.5" y1="411.9" y2="436.2" stroke="#6e6e70"/>
<rect x="651.5" y="419.5" width="4" height="12" fill="#4caf50" stroke="#14501f"/>
<line x1="659.5" x2="659.5" y1="415.9" y2="429.6" stroke="#6e6e70"/>
<rect x="657.5" y="419.5" width="4" height="7" fill="#df5946" stroke="#5a0f08"/>
<line x1="665.5" x2="665.5" y1="412.8" y2="429.0" stroke="#6e6e70"/>
<rect x="663.5" y="413.5" width="4" height="15" fill="#4caf50" stroke="#14501f"/>
<line x1="672.5" x2="672.5" y1="390.0" y2="415.0" stroke="#6e6e70"/>
<rect x="670.5" y="407.5" width="4" height="7" fill="#4caf50" stroke="#14501f"/>
<line x1="678.5" x2="678.5" y1="406.9" y2="408.0" stroke="#6e6e70"/>
<rect x="676" y="407" width="5" height="1" fill="#5a0f08"/>
<line x1="684.5" x2="684.5" y1="392.2" y2="407.0" stroke="#6e6e70"/>
<rect x="682.5" y="393.5" width="4" height="13" fill="#4caf50" stroke="#14501f"/>
<line x1="690.5" x2="690.5" y1="376.9" y2="398.8" stroke="#6e6e70"/>
<rect x="688.5" y="384.5" width="4" height="9" fill="#4caf50" stroke="#14501f"/>
<line x1="696.5" x2="696.5" y1="373.8" y2="396.0" stroke="#6e6e70"/>
<rect x="694.5" y="384.5" width="4" height="11" fill="#df5946" stroke="#5a0f08"/>
<line x1="703.5" x2="703.5" y1="385.9" y2="402.1" stroke="#6e6e70"/>
<rect x="701.5" y="395.5" width="4" height="3" fill="#df5946" stroke="#5a0f08"/>
<line x1="709.5" x2="709.5" y1="397.9" y2="399.0" stroke="#6e6e70"/>
<rect x="707" y="398" width="5" height="1" fill="#14501f"/>
<line x1="715.5" x2="715.5" y1="381.9" y2="403.8" stroke="#6e6e70"/>
<rect x="713.5" y="398.5" width="4" height="3" fill="#df5946" stroke="#5a0f08"/>
<line x1="721.5" x2="721.5" y1="394.9" y2="426.9" stroke="#6e6e70"/>
<rect x="719.5" y="401.5" width="4" height="17" fill="#df5946" stroke="#5a0f08"/>
<line x1="727.5" x2="727.5" y1="408.9" y2="421.8" stroke="#6e6e70"/>
<rect x="725" y="416" width="5" height="2" fill="#14501f"/>
<line x1="733.5" x2="733.5" y1="396.1" y2="433.0" stroke="#6e6e70"/>
<rect x="731.5" y="414.5" width="4" height="3" fill="#4caf50" stroke="#14501f"/>
<line x1="740.5" x2="740.5" y1="412.8" y2="439.8" stroke="#6e6e70"/>
<rect x="738.5" y="414.5" width="4" height="16" fill="#df5946" stroke="#5a0f08"/>
<line x1="746.5" x2="746.5" y1="417.0" y2="431.7" stroke="#6e6e70"/>
<rect x="744.5" y="428.5" width="4" height="2" fill="#4caf50" stroke="#14501f"/>
<line x1="752.5" x2="752.5" y1="419.1" y2="436.8" stroke="#6e6e70"/>
<rect x="750.5" y="428.5" width="4" height="6" fill="#df5946" stroke="#5a0f08"/>
<line x1="758.5" x2="758.5" y1="412.8" y2="443.8" stroke="#6e6e70"/>
<rect x="756.5" y="429.5" width="4" height="5" fill="#4caf50" stroke="#14501f"/>
<line x1="764.5" x2="764.5" y1="397.9" y2="431.0" stroke="#6e6e70"/>
<rect x="762.5" y="410.5" width="4" height="20" fill="#4caf50" stroke="#14501f"/>
<line x1="770.5" x2="770.5" y1="401.2" y2="412.8" stroke="#6e6e70"/>
<rect x="768.5" y="406.5" width="4" height="5" fill="#4caf50" stroke="#14501f"/>
<line x1="777.5" x2="777.5" y1="403.8" y2="432.8" stroke="#6e6e70"/>
<rect x="775.5" y="405.5" width="4" height="25" fill="#df5946" stroke="#5a0f08"/>
<line x1="783.5" x2="783.5" y1="425.1" y2="453.8" stroke="#6e6e70"/>
<rect x="781.5" y="430.5" width="4" height="21" fill="#df5946" stroke="#5a0f08"/>
<line x1="789.5" x2="789.5" y1="434.8" y2="451.0" stroke="#6e6e70"/>
<rect x="787.5" y="435.5" width="4" height="15" fill="#4caf50" stroke="#14501f"/>
<line x1="795.5" x2="795.5" y1="419.1" y2="436.8" stroke="#6e6e70"/>
<rect x="793.5" y="429.5" width="4" height="6" fill="#4caf50" stroke="#14501f"/>
<line x1="801.5" x2="801.5" y1="426.0" y2="440.7" stroke="#6e6e70"/>
<rect x="799.5" y="429.5" width="4" height="7" fill="#df5946" stroke="#5a0f08"/>
<line x1="808.5" x2="808.5" y1="420.9" y2="437.7" stroke="#6e6e70"/>
<rect x="806.5" y="429.5" width="4" height="7" fill="#4caf50" stroke="#14501f"/>
<line x1="814.5" x2="814.5" y1="422.4" y2="445.8" stroke="#6e6e70"/>
<rect x="812.5" y="429.5" width="4" height="14" fill="#df5946" stroke="#5a0f08"/>
<line x1="820.5" x2="820.5" y1="433.2" y2="447.0" stroke="#6e6e70"/>
<rect x="818.5" y="437.5" width="4" height="6" fill="#4caf50" stroke="#14501f"/>
<line x1="826.5" x2="826.5" y1="430.8" y2="440.7" stroke="#6e6e70"/>
<rect x="824.5" y="437.5" width="4" height="2" fill="#df5946" stroke="#5a0f08"/>
<line x1="832.5" x2="832.5" y1="420.9" y2="440.0" stroke="#6e6e70"/>
<rect x="830.5" y="424.5" width="4" height="15" fill="#4caf50" stroke="#14501f"/>
<line x1="838.5" x2="838.5" y1="411.0" y2="429.0" stroke="#6e6e70"/>
<rect x="836.5" y="422.5" width="4" height="5" fill="#4caf50" stroke="#14501f"/>
<line x1="845.5" x2="845.5" y1="403.8" y2="427.2" stroke="#6e6e70"/>
<rect x="843.5" y="420.5" width="4" height="2" fill="#4caf50" stroke="#14501f"/>
<line x1="851.5" x2="851.5" y1="394.9" y2="427.8" stroke="#6e6e70"/>
<rect x="849.5" y="405.5" width="4" height="14" fill="#4caf50" stroke="#14501f"/>
<line x1="857.5" x2="857.5" y1="402.1" y2="429.9" stroke="#6e6e70"/>
<rect x="855.5" y="405.5" width="4" height="14" fill="#df5946" stroke="#5a0f08"/>
<line x1="863.5" x2="863.5" y1="417.0" y2="442.0" stroke="#6e6e70"/>
<rect x="861.5" y="419.5" width="4" height="14" fill="#df5946" stroke="#5a0f08"/>
<line x1="869.5" x2="869.5" y1="420.0" y2="435.0" stroke="#6e6e70"/>
<rect x="867.5" y="423.5" width="4" height="10" fill="#4caf50" stroke="#14501f"/>
<line x1="875.5" x2="875.5" y1="414.9" y2="427.1" stroke="#6e6e70"/>
<rect x="873" y="423" width="5" height="1" fill="#5a0f08"/>
<line x1="882.5" x2="882.5" y1="419.9" y2="436.5" stroke="#6e6e70"/>
<rect x="880" y="424" width="5" height="1" fill="#5a0f08"/>
<line x1="888.5" x2="888.5" y1="421.7" y2="436.8" stroke="#6e6e70"/>
<rect x="886.5" y="425.5" width="4" height="9" fill="#df5946" stroke="#5a0f08"/>
<line x1="894.5" x2="894.5" y1="430.7" y2="444.7" stroke="#6e6e70"/>
<rect x="892.5" y="433.5" width="4" height="5" fill="#df5946" stroke="#5a0f08"/>
<line x1="900.5" x2="900.5" y1="425.7" y2="464.5" stroke="#6e6e70"/>
<rect x="898.5" y="438.5" width="4" height="25" fill="#df5946" stroke="#5a0f08"/>
<line x1="906.5" x2="906.5" y1="460.0" y2="470.8" stroke="#6e6e70"/>
<rect x="904" y="463" width="5" height="2" fill="#5a0f08"/>
<line x1="913.5" x2="913.5" y1="448.3" y2="465.0" stroke="#6e6e70"/>
<rect x="911.5" y="452.5" width="4" height="12" fill="#4caf50" stroke="#14501f"/>
<line x1="919.5" x2="919.5" y1="442.4" y2="460.8" stroke="#6e6e70"/>
<rect x="917.5" y="444.5" width="4" height="8" fill="#4caf50" stroke="#14501f"/>
<line x1="925.5" x2="925.5" y1="435.2" y2="446.0" stroke="#6e6e70"/>
<rect x="923.5" y="439.5" width="4" height="5" fill="#4caf50" stroke="#14501f"/>
<line x1="931.5" x2="931.5" y1="427.1" y2="442.9" stroke="#6e6e70"/>
<rect x="929.5" y="434.5" width="4" height="5" fill="#4caf50" stroke="#14501f"/>
<line x1="937.5" x2="937.5" y1="426.2" y2="436.7" stroke="#6e6e70"/>
<rect x="935.5" y="432.5" width="4" height="2" fill="#4caf50" stroke="#14501f"/>
<line x1="943.5" x2="943.5" y1="424.4" y2="437.9" stroke="#6e6e70"/>
<rect x="941.5" y="432.5" width="4" height="2" fill="#df5946" stroke="#5a0f08"/>
<line x1="950.5" x2="950.5" y1="417.2" y2="440.6" stroke="#6e6e70"/>
<rect x="948.5" y="423.5" width="4" height="11" fill="#4caf50" stroke="#14501f"/>
<line x1="956.5" x2="956.5" y1="421.7" y2="432.5" stroke="#6e6e70"/>
<rect x="954.5" y="423.5" width="4" height="4" fill="#df5946" stroke="#5a0f08"/>
<line x1="962.5" x2="962.5" y1="419.0" y2="429.0" stroke="#6e6e70"/>
<rect x="960" y="427" width="5" height="2" fill="#5a0f08"/>
<line x1="968.5" x2="968.5" y1="421.4" y2="432.9" stroke="#6e6e70"/>
<rect x="966.5" y="424.5" width="4" height="4" fill="#4caf50" stroke="#14501f"/>
<line x1="974.5" x2="974.5" y1="409.1" y2="429.8" stroke="#6e6e70"/>
<rect x="972.5" y="415.5" width="4" height="9" fill="#4caf50" stroke="#14501f"/>
<line x1="980.5" x2="980.5" y1="374.1" y2="419.6" stroke="#6e6e70"/>
<rect x="978.5" y="379.5" width="4" height="36" fill="#4caf50" stroke="#14501f"/>
<line x1="987.5" x2="987.5" y1="344.4" y2="381.8" stroke="#6e6e70"/>
<rect x="985.5" y="349.5" width="4" height="30" fill="#4caf50" stroke="#14501f"/>
<line x1="993.5" x2="993.5" y1="330.0" y2="352.8" stroke="#6e6e70"/>
<rect x="991.5" y="337.5" width="4" height="13" fill="#4caf50" stroke="#14501f"/>
<line x1="999.5" x2="999.5" y1="314.1" y2="340.4" stroke="#6e6e70"/>
<rect x="997.5" y="318.5" width="4" height="20" fill="#4caf50" stroke="#14501f"/>
<line x1="1005.5" x2="1005.5" y1="302.4" y2="319.0" stroke="#6e6e70"/>
<rect x="1003.5" y="307.5" width="4" height="11" fill="#4caf50" stroke="#14501f"/>
<line x1="1011.5" x2="1011.5" y1="274.5" y2="311.8" stroke="#6e6e70"/>
<rect x="1009.5" y="289.5" width="4" height="18" fill="#4caf50" stroke="#14501f"/>
<line x1="1018.5" x2="1018.5" y1="280.3" y2="292.9" stroke="#6e6e70"/>
<rect x="1016.5" y="286.5" width="4" height="3" fill="#4caf50" stroke="#14501f"/>
<line x1="1024.5" x2="1024.5" y1="285.3" y2="314.6" stroke="#6e6e70"/>
<rect x="1022.5" y="286.5" width="4" height="23" fill="#df5946" stroke="#5a0f08"/>
<line x1="1030.5" x2="1030.5" y1="291.6" y2="310.5" stroke="#6e6e70"/>
<rect x="1028.5" y="293.5" width="4" height="16" fill="#4caf50" stroke="#14501f"/>
<line x1="1036.5" x2="1036.5" y1="291.3" y2="312.8" stroke="#6e6e70"/>
<rect x="1034.5" y="294.5" width="4" height="11" fill="#df5946" stroke="#5a0f08"/>
<line x1="1042.5" x2="1042.5" y1="296.1" y2="312.8" stroke="#6e6e70"/>
<rect x="1040.5" y="306.5" width="4" height="5" fill="#df5946" stroke="#5a0f08"/>
<line x1="1048.5" x2="1048.5" y1="303.3" y2="319.9" stroke="#6e6e70"/>
<rect x="1046.5" y="307.5" width="4" height="4" fill="#4caf50" stroke="#14501f"/>
<line x1="1055.5" x2="1055.5" y1="305.1" y2="318.6" stroke="#6e6e70"/>
<rect x="1053.5" y="306.5" width="4" height="3" fill="#df5946" stroke="#5a0f08"/>
<line x1="1061.5" x2="1061.5" y1="280.3" y2="315.9" stroke="#6e6e70"/>
<rect x="1059.5" y="283.5" width="4" height="26" fill="#4caf50" stroke="#14501f"/>
<line x1="1067.5" x2="1067.5" y1="248.1" y2="300.6" stroke="#6e6e70"/>
<rect x="1065.5" y="281.5" width="4" height="6" fill="#df5946" stroke="#5a0f08"/>
<line x1="1073.5" x2="1073.5" y1="282.1" y2="308.7" stroke="#6e6e70"/>
<rect x="1071.5" y="287.5" width="4" height="15" fill="#df5946" stroke="#5a0f08"/>
<line x1="1079.5" x2="1079.5" y1="287.1" y2="303.0" stroke="#6e6e70"/>
<rect x="1077.5" y="296.5" width="4" height="6" fill="#4caf50" stroke="#14501f"/>
<line x1="1085.5" x2="1085.5" y1="268.8" y2="299.7" stroke="#6e6e70"/>
<rect x="1083.5" y="290.5" width="4" height="6" fill="#4caf50" stroke="#14501f"/>
<line x1="1092.5" x2="1092.5" y1="272.4" y2="294.0" stroke="#6e6e70"/>
<rect x="1090.5" y="274.5" width="4" height="16" fill="#4caf50" stroke="#14501f"/>
<line x1="1098.5" x2="1098.5" y1="235.9" y2="280.8" stroke="#6e6e70"/>
<rect x="1096.5" y="240.5" width="4" height="35" fill="#4caf50" stroke="#14501f"/>
<line x1="1104.5" x2="1104.5" y1="238.0" y2="239.0" stroke="#6e6e70"/>
<rect x="1102" y="238" width="5" height="1" fill="#14501f"/>
<line x1="1110.5" x2="1110.5" y1="208.0" y2="243.1" stroke="#6e6e70"/>
<rect x="1108.5" y="222.5" width="4" height="17" fill="#4caf50" stroke="#14501f"/>
<line x1="1116.5" x2="1116.5" y1="194.0" y2="226.0" stroke="#6e6e70"/>
<rect x="1114.5" y="196.5" width="4" height="26" fill="#4caf50" stroke="#14501f"/>
<line x1="1123.5" x2="1123.5" y1="174.7" y2="207.8" stroke="#6e6e70"/>
<rect x="1121.5" y="177.5" width="4" height="17" fill="#4caf50" stroke="#14501f"/>
<line x1="1129.5" x2="1129.5" y1="171.2" y2="194.9" stroke="#6e6e70"/>
<rect x="1127.5" y="176.5" width="4" height="10" fill="#df5946" stroke="#5a0f08"/>
<line x1="1135.5" x2="1135.5" y1="148.1" y2="205.7" stroke="#6e6e70"/>
<rect x="1133.5" y="149.5" width="4" height="36" fill="#4caf50" stroke="#14501f"/>
<line x1="1141.5" x2="1141.5" y1="126.2" y2="172.9" stroke="#6e6e70"/>
<rect x="1139.5" y="140.5" width="4" height="9" fill="#4caf50" stroke="#14501f"/>
<line x1="1147.5" x2="1147.5" y1="114.9" y2="141.8" stroke="#6e6e70"/>
<rect x="1145.5" y="127.5" width="4" height="13" fill="#4caf50" stroke="#14501f"/>
<line x1="1153.5" x2="1153.5" y1="120.3" y2="158.0" stroke="#6e6e70"/>
<rect x="1151.5" y="127.5" width="4" height="19" fill="#df5946" stroke="#5a0f08"/>
<line x1="1160.5" x2="1160.5" y1="104.1" y2="151.7" stroke="#6e6e70"/>
<rect x="1158.5" y="109.5" width="4" height="37" fill="#4caf50" stroke="#14501f"/>
<line x1="1166.5" x2="1166.5" y1="53.0" y2="144.5" stroke="#6e6e70"/>
<rect x="1164.5" y="109.5" width="4" height="27" fill="#df5946" stroke="#5a0f08"/>
<line x1="1172.5" x2="1172.5" y1="95.1" y2="152.6" stroke="#6e6e70"/>
<rect x="1170.5" y="99.5" width="4" height="37" fill="#4caf50" stroke="#14501f"/>
<line x1="1178.5" x2="1178.5" y1="85.2" y2="116.7" stroke="#6e6e70"/>
<rect x="1176" y="99" width="5" height="1" fill="#14501f"/>
<line x1="1184.5" x2="1184.5" y1="87.0" y2="124.7" stroke="#6e6e70"/>
<rect x="1182.5" y="100.5" width="4" height="20" fill="#df5946" stroke="#5a0f08"/>
<line x1="1190.5" x2="1190.5" y1="90.2" y2="120.0" stroke="#6e6e70"/>
<rect x="1188.5" y="103.5" width="4" height="16" fill="#4caf50" stroke="#14501f"/>
<line x1="1197.5" x2="1197.5" y1="65.9" y2="107.7" stroke="#6e6e70"/>
<rect x="1195.5" y="91.5" width="4" height="12" fill="#4caf50" stroke="#14501f"/>
<line x1="1203.5" x2="1203.5" y1="89.7" y2="154.0" stroke="#6e6e70"/>
<rect x="1201.5" y="90.5" width="4" height="63" fill="#df5946" stroke="#5a0f08"/>
<line x1="1209.5" x2="1209.5" y1="143.6" y2="183.7" stroke="#6e6e70"/>
<rect x="1207.5" y="150.5" width="4" height="6" fill="#df5946" stroke="#5a0f08"/>
<line x1="1215.5" x2="1215.5" y1="140.9" y2="164.7" stroke="#6e6e70"/>
<rect x="1213.5" y="155.5" width="4" height="7" fill="#df5946" stroke="#5a0f08"/>
<line x1="1221.5" x2="1221.5" y1="133.7" y2="170.6" stroke="#6e6e70"/>
<rect x="1219.5" y="147.5" width="4" height="15" fill="#4caf50" stroke="#14501f"/>
<line x1="1228.5" x2="1228.5" y1="126.9" y2="151.7" stroke="#6e6e70"/>
<rect x="1226.5" y="141.5" width="4" height="5" fill="#4caf50" stroke="#14501f"/>
<line x1="1234.5" x2="1234.5" y1="132.8" y2="156.8" stroke="#6e6e70"/>
<rect x="1232.5" y="141.5" width="4" height="2" fill="#df5946" stroke="#5a0f08"/>
<line x1="1240.5" x2="1240.5" y1="142.7" y2="191.0" stroke="#6e6e70"/>
<rect x="1238.5" y="143.5" width="4" height="47" fill="#df5946" stroke="#5a0f08"/>
<line x1="1246.5" x2="1246.5" y1="149.9" y2="192.7" stroke="#6e6e70"/>
<rect x="1244.5" y="158.5" width="4" height="31" fill="#4caf50" stroke="#14501f"/>
<line x1="1252.5" x2="1252.5" y1="152.1" y2="189.9" stroke="#6e6e70"/>
<rect x="1250.5" y="158.5" width="4" height="16" fill="#df5946" stroke="#5a0f08"/>
<line x1="1258.5" x2="1258.5" y1="157.1" y2="196.7" stroke="#6e6e70"/>
<rect x="1256" y="173" width="5" height="2" fill="#5a0f08"/>
<line x1="1265.5" x2="1265.5" y1="146.3" y2="183.7" stroke="#6e6e70"/>
<rect x="1263.5" y="152.5" width="4" height="22" fill="#4caf50" stroke="#14501f"/>
<line x1="1271.5" x2="1271.5" y1="148.1" y2="166.5" stroke="#6e6e70"/>
<rect x="1269.5" y="152.5" width="4" height="11" fill="#df5946" stroke="#5a0f08"/>
<line x1="1277.5" x2="1277.5" y1="156.2" y2="172.8" stroke="#6e6e70"/>
<rect x="1275.5" y="163.5" width="4" height="6" fill="#df5946" stroke="#5a0f08"/>
<line x1="1283.5" x2="1283.5" y1="131.9" y2="170.0" stroke="#6e6e70"/>
<rect x="1281.5" y="134.5" width="4" height="35" fill="#4caf50" stroke="#14501f"/>
<line x1="1289.5" x2="1289.5" y1="103.2" y2="135.5" stroke="#6e6e70"/>
<rect x="1287.5" y="120.5" width="4" height="13" fill="#4caf50" stroke="#14501f"/>
<line x1="1295.5" x2="1295.5" y1="116.1" y2="146.0" stroke="#6e6e70"/>
<rect x="1293.5" y="120.5" width="4" height="22" fill="#df5946" stroke="#5a0f08"/>
<line x1="1302.5" x2="1302.5" y1="121.2" y2="144.0" stroke="#6e6e70"/>
<rect x="1300.5" y="122.5" width="4" height="21" fill="#4caf50" stroke="#14501f"/>
<line x1="1308.5" x2="1308.5" y1="92.0" y2="127.8" stroke="#6e6e70"/>
<rect x="1306.5" y="96.5" width="4" height="27" fill="#4caf50" stroke="#14501f"/>
<line x1="1314.5" x2="1314.5" y1="85.2" y2="109.8" stroke="#6e6e70"/>
<rect x="1312.5" y="96.5" width="4" height="9" fill="#df5946" stroke="#5a0f08"/>
<line x1="1320.5" x2="1320.5" y1="62.2" y2="106.8" stroke="#6e6e70"/>
<rect x="1318.5" y="69.5" width="4" height="36" fill="#4caf50" stroke="#14501f"/>
<line x1="1326.5" x2="1326.5" y1="36.3" y2="75.8" stroke="#6e6e70"/>
<rect x="1324.5" y="60.5" width="4" height="10" fill="#4caf50" stroke="#14501f"/>
<line x1="1333.5" x2="1333.5" y1="50.9" y2="76.9" stroke="#6e6e70"/>
<rect x="1331.5" y="58.5" width="4" height="6" fill="#df5946" stroke="#5a0f08"/>
<line x1="1339.5" x2="1339.5" y1="58.0" y2="105.9" stroke="#6e6e70"/>
<rect x="1337.5" y="64.5" width="4" height="39" fill="#df5946" stroke="#5a0f08"/>
<line x1="1345.5" x2="1345.5" y1="97.9" y2="150.8" stroke="#6e6e70"/>
<rect x="1343.5" y="102.5" width="4" height="47" fill="#df5946" stroke="#5a0f08"/>
<line x1="1351.5" x2="1351.5" y1="131.7" y2="151.8" stroke="#6e6e70"/>
<rect x="1349.5" y="145.5" width="4" height="4" fill="#4caf50" stroke="#14501f"/>
<line x1="1357.5" x2="1357.5" y1="122.1" y2="146.6" stroke="#6e6e70"/>
<rect x="1355.5" y="129.5" width="4" height="16" fill="#4caf50" stroke="#14501f"/>
<line x1="1363.5" x2="1363.5" y1="116.1" y2="139.0" stroke="#6e6e70"/>
<rect x="1361.5" y="120.5" width="4" height="8" fill="#4caf50" stroke="#14501f"/>
<line x1="1370.5" x2="1370.5" y1="118.1" y2="143.8" stroke="#6e6e70"/>
<rect x="1368.5" y="120.5" width="4" height="21" fill="#df5946" stroke="#5a0f08"/>
<line x1="1376.5" x2="1376.5" y1="128.1" y2="154.6" stroke="#6e6e70"/>
<rect x="1374.5" y="135.5" width="4" height="6" fill="#4caf50" stroke="#14501f"/>
<line x1="1382.5" x2="1382.5" y1="120.1" y2="156.9" stroke="#6e6e70"/>
<rect x="1380.5" y="135.5" width="4" height="16" fill="#df5946" stroke="#5a0f08"/>
<line x1="1388.5" x2="1388.5" y1="125.1" y2="161.8" stroke="#6e6e70"/>
<rect x="1386.5" y="129.5" width="4" height="22" fill="#4caf50" stroke="#14501f"/>
<line x1="1394.5" x2="1394.5" y1="127.1" y2="161.8" stroke="#6e6e70"/>
<rect x="1392.5" y="129.5" width="4" height="23" fill="#df5946" stroke="#5a0f08"/>
<line x1="1400.5" x2="1400.5" y1="137.1" y2="152.0" stroke="#6e6e70"/>
<rect x="1398.5" y="146.5" width="4" height="5" fill="#4caf50" stroke="#14501f"/>
<line x1="1011.3" y1="274.8" x2="1056" y2="303.3" stroke="#000" stroke-width="4" stroke-dasharray="4 7.9"/>
<line x1="1005.2" y1="322.5" x2="1056" y2="308.9" stroke="#000" stroke-width="4" stroke-dasharray="4 7.9"/>
<line x1="3" x2="1438" y1="146.5" y2="146.5" stroke="#4caf50" stroke-width="1" stroke-dasharray="1 2"/>
<path d="M3.0 696.7 L11.2 696.5 L15.0 694.2 L25.0 693.7 L37.5 693.0 L50.0 694.5 L62.5 695.5 L74.9 696.2 L87.4 697.5 L99.9 698.0 L112.4 699.0 L124.9 699.7 L137.4 699.2 L149.9 700.0 L159.9 699.2 L169.9 700.5 L178.6 700.0 L187.4 701.5 L197.4 702.5 L207.3 704.0 L219.8 703.7 L232.3 705.2 L239.8 704.2 L252.3 706.0 L262.3 704.5 L274.8 705.7 L282.3 705.2 L289.8 702.7 L294.8 701.7 L302.3 698.7 L312.3 698.2 L324.8 699.0 L332.3 698.0 L338.5 696.5 L344.7 697.2 L357.2 697.2 L362.7 692.0 L368.5 691.5 L376.0 691.7 L382.2 689.7 L391.0 689.0 L401.0 689.0 L413.5 688.7 L424.7 688.0 L431.0 688.7 L442.2 688.5 L450.9 689.7 L463.4 690.5 L475.9 690.5 L488.4 690.0 L498.4 689.2 L510.9 688.7 L523.4 690.0 L533.4 689.5 L542.1 691.0 L550.9 692.2 L560.9 691.5 L573.4 692.5 L578.8 690.0 L584.6 681.0 L590.8 681.0 L603.3 682.5 L613.3 681.5 L622.1 682.2 L628.3 680.0 L640.8 680.5 L653.3 682.0 L663.3 683.7 L672.0 684.5 L678.3 687.0 L688.3 687.7 L700.8 688.2 L709.5 691.2 L715.7 691.0 L720.7 689.7 L727.0 690.5 L733.2 689.0 L740.7 688.2 L752.0 689.5 L763.2 687.5 L770.7 688.5 L782.0 687.0 L792.0 688.0 L802.0 689.5 L814.5 689.7 L825.7 691.5 L838.2 692.0 L846.9 691.2 L851.9 690.0 L861.9 689.0 L871.9 690.2 L881.9 691.0 L894.4 692.2 L899.4 690.0 L906.9 691.2 L918.1 691.7 L926.9 693.0 L941.9 695.0 L950.6 694.2 L959.3 695.7 L968.1 697.2 L974.3 696.5 L980.6 693.0 L986.8 691.0 L996.8 689.5 L1005.6 689.2 L1011.8 687.5 L1018.1 688.5 L1024.3 687.5 L1036.8 687.5 L1045.5 688.7 L1055.5 690.0 L1060.5 688.2 L1066.8 685.0 L1073.0 684.7 L1079.3 685.7 L1086.7 685.2 L1093.0 685.0 L1098.0 683.2 L1103.0 685.5 L1111.7 684.2 L1120.5 683.5 L1128.0 683.5 L1138.0 679.5 L1150.5 678.7 L1159.2 677.2 L1165.5 672.5 L1171.7 671.2 L1188.0 671.7 L1195.4 671.2 L1202.9 669.7 L1210.4 670.0 L1221.7 671.0 L1232.9 672.2 L1245.4 671.2 L1264.1 671.0 L1276.6 673.5 L1287.9 673.2 L1300.4 674.5 L1312.9 675.0 L1325.4 673.7 L1335.3 674.2 L1344.1 672.2 L1352.8 673.7 L1364.1 675.2 L1376.6 676.0 L1387.8 675.2 L1395.3 675.5 L1399.8 676.7" fill="none" stroke="#c62828" stroke-width="1.1" stroke-linejoin="round" />
<path d="M3.0 751.9 L10.5 748.4 L17.0 754.9 L22.5 756.2 L28.7 753.2 L35.0 759.9 L41.2 767.4 L46.2 772.9 L53.7 772.9 L60.0 776.2 L65.5 782.4 L72.4 784.4 L78.7 781.4 L84.9 779.4 L93.7 779.2 L102.4 780.2 L109.9 779.4 L117.4 777.4 L126.2 773.7 L133.6 766.2 L139.9 761.9 L146.9 762.9 L152.9 758.2 L158.6 749.9 L164.9 741.9 L174.9 742.7 L183.6 744.4 L189.9 751.2 L196.1 757.4 L202.3 757.7 L208.6 756.7 L214.3 756.4 L221.1 762.4 L227.3 766.2 L232.8 768.4 L238.6 759.9 L244.8 753.7 L251.1 752.4 L257.3 750.9 L263.6 764.4 L269.8 761.9 L276.0 767.4 L281.0 776.2 L288.5 794.9 L294.8 797.9 L301.0 793.2 L306.8 794.1 L313.5 788.7 L319.8 783.2 L326.0 779.4 L332.3 774.9 L338.0 767.9 L344.7 764.9 L351.0 762.4 L357.2 761.2 L363.5 751.9 L369.7 749.2 L376.0 747.9 L381.0 743.2 L387.2 739.9 L394.0 737.9 L399.7 741.7 L406.0 744.9 L413.5 746.2 L419.7 746.7 L426.0 745.7 L432.2 746.9 L442.2 751.2 L448.4 751.4 L454.7 750.4 L462.2 753.7 L468.4 758.2 L473.9 762.7 L479.7 765.4 L485.9 772.7 L492.9 775.9 L498.9 769.2 L504.7 766.7 L510.9 759.4 L517.1 753.4 L522.9 758.9 L529.6 747.9 L535.9 748.7 L542.1 750.2 L547.9 746.9 L554.6 740.4 L560.4 733.4 L567.1 733.2 L572.9 739.4 L578.8 736.2 L584.8 738.7 L590.8 752.2 L603.3 752.4 L609.6 759.4 L615.8 766.9 L622.1 769.4 L628.3 760.4 L635.1 751.4 L640.8 755.9 L647.0 757.4 L652.8 752.9 L659.5 754.4 L665.8 751.4 L672.0 744.4 L678.3 747.4 L684.5 743.4 L690.3 740.2 L697.0 743.9 L703.3 746.9 L709.5 747.9 L715.2 748.9 L721.2 756.9 L727.0 758.4 L733.2 758.7 L739.5 766.9 L745.7 768.7 L752.0 772.4 L758.2 770.7 L764.0 760.9 L770.0 757.2 L776.5 769.2 L783.0 782.9 L789.0 778.4 L795.0 769.4 L800.7 771.9 L807.5 768.2 L814.0 771.9 L819.9 772.4 L826.2 770.4 L831.9 762.4 L838.2 753.7 L844.9 749.4 L851.2 741.4 L856.9 749.4 L863.2 763.9 L869.4 759.2 L874.9 755.2 L881.4 760.4 L888.1 764.2 L893.9 771.2 L899.9 783.7 L906.1 793.6 L912.4 782.4 L918.9 773.2 L924.9 765.4 L930.6 760.9 L936.9 758.9 L943.1 759.2 L949.4 755.4 L955.6 755.2 L961.8 753.9 L968.1 753.7 L973.8 746.2 L979.8 725.0 L986.8 714.5 L993.1 720.5 L999.3 728.2 L1005.6 733.2 L1011.8 736.2 L1018.1 739.4 L1024.3 744.9 L1029.8 746.2 L1036.8 748.7 L1043.0 750.4 L1049.3 751.9 L1055.5 752.4 L1061.8 750.2 L1066.8 748.4 L1073.0 752.4 L1079.3 752.4 L1085.5 749.9 L1091.7 748.2 L1098.0 736.2 L1104.2 730.4 L1110.5 728.4 L1116.7 728.9 L1123.0 731.2 L1128.0 735.7 L1134.2 737.4 L1145.5 738.7 L1153.0 743.7 L1160.5 742.9 L1166.7 744.2 L1172.5 746.2 L1179.2 745.4 L1185.0 747.9 L1191.7 747.9 L1196.7 746.9 L1202.9 753.7 L1209.2 759.9 L1220.4 760.7 L1227.9 758.9 L1234.2 761.9 L1239.7 773.7 L1245.4 772.2 L1251.7 774.4 L1257.4 775.9 L1264.1 769.9 L1270.4 767.9 L1276.6 769.2 L1282.9 759.9 L1289.1 751.7 L1294.9 756.2 L1301.6 752.4 L1307.9 742.4 L1314.1 739.9 L1320.4 732.4 L1326.6 730.9 L1332.8 737.4 L1339.1 747.4 L1345.3 759.9 L1351.6 762.9 L1357.8 760.9 L1362.8 759.2 L1369.1 762.4 L1375.3 764.9 L1381.6 767.4 L1387.8 766.9 L1394.1 769.9 L1399.8 770.4" fill="none" stroke="#2962ff" stroke-width="1.1" stroke-linejoin="round" />
<rect x="1439" y="3" width="63" height="829" fill="#fff"/>
<rect x="3" y="805" width="1499" height="27" fill="#fff"/>
<line x1="1438" x2="1502" y1="667.5" y2="667.5" stroke="#dfe2ea"/>
<line x1="1438" x2="1502" y1="709.5" y2="709.5" stroke="#dfe2ea"/>
<line x1="1438.5" x2="1438.5" y1="3" y2="832" stroke="#4d4d4d"/>
<line x1="3" x2="1502" y1="804.5" y2="804.5" stroke="#4d4d4d"/>
<text x="1446.3" y="645.9" font-size="12" fill="#555" font-family="Liberation Sans, sans-serif" textLength="45.8" lengthAdjust="spacingAndGlyphs">1,800.00</text>
<text x="1446.3" y="608.9" font-size="12" fill="#555" font-family="Liberation Sans, sans-serif" textLength="45.8" lengthAdjust="spacingAndGlyphs">1,840.00</text>
<text x="1446.3" y="571.9" font-size="12" fill="#555" font-family="Liberation Sans, sans-serif" textLength="45.8" lengthAdjust="spacingAndGlyphs">1,880.00</text>
<text x="1446.3" y="534.4" font-size="12" fill="#555" font-family="Liberation Sans, sans-serif" textLength="45.8" lengthAdjust="spacingAndGlyphs">1,920.00</text>
<text x="1446.3" y="495.9" font-size="12" fill="#555" font-family="Liberation Sans, sans-serif" textLength="45.8" lengthAdjust="spacingAndGlyphs">1,960.00</text>
<text x="1446.3" y="459.9" font-size="12" fill="#555" font-family="Liberation Sans, sans-serif" textLength="45.8" lengthAdjust="spacingAndGlyphs">2,000.00</text>
<text x="1446.3" y="421.9" font-size="12" fill="#555" font-family="Liberation Sans, sans-serif" textLength="45.8" lengthAdjust="spacingAndGlyphs">2,040.00</text>
<text x="1446.3" y="384.9" font-size="12" fill="#555" font-family="Liberation Sans, sans-serif" textLength="45.8" lengthAdjust="spacingAndGlyphs">2,080.00</text>
<text x="1446.3" y="347.9" font-size="12" fill="#555" font-family="Liberation Sans, sans-serif" textLength="45.8" lengthAdjust="spacingAndGlyphs">2,120.00</text>
<text x="1446.3" y="309.9" font-size="12" fill="#555" font-family="Liberation Sans, sans-serif" textLength="45.8" lengthAdjust="spacingAndGlyphs">2,160.00</text>
<text x="1446.3" y="272.9" font-size="12" fill="#555" font-family="Liberation Sans, sans-serif" textLength="45.8" lengthAdjust="spacingAndGlyphs">2,200.00</text>
<text x="1446.3" y="235.9" font-size="12" fill="#555" font-family="Liberation Sans, sans-serif" textLength="45.8" lengthAdjust="spacingAndGlyphs">2,240.00</text>
<text x="1446.3" y="197.9" font-size="12" fill="#555" font-family="Liberation Sans, sans-serif" textLength="45.8" lengthAdjust="spacingAndGlyphs">2,280.00</text>
<text x="1446.3" y="160.9" font-size="12" fill="#555" font-family="Liberation Sans, sans-serif" textLength="45.8" lengthAdjust="spacingAndGlyphs">2,320.00</text>
<text x="1446.3" y="123.9" font-size="12" fill="#555" font-family="Liberation Sans, sans-serif" textLength="45.8" lengthAdjust="spacingAndGlyphs">2,360.00</text>
<text x="1446.3" y="85.9" font-size="12" fill="#555" font-family="Liberation Sans, sans-serif" textLength="45.8" lengthAdjust="spacingAndGlyphs">2,400.00</text>
<text x="1446.3" y="48.9" font-size="12" fill="#555" font-family="Liberation Sans, sans-serif" textLength="45.8" lengthAdjust="spacingAndGlyphs">2,440.00</text>
<text x="1446.3" y="690.6" font-size="12" fill="#555" font-family="Liberation Sans, sans-serif">25.00</text>
<text x="1446.3" y="731.0" font-size="12" fill="#555" font-family="Liberation Sans, sans-serif">250.00</text>
<text x="1446.3" y="765.0" font-size="12" fill="#555" font-family="Liberation Sans, sans-serif">0.00</text>
<text x="1446.3" y="799.2" font-size="12" fill="#555" font-family="Liberation Sans, sans-serif">−250.00</text>
<path d="M1438 27.95 H1496 a2 2 0 0 1 2 2 V42.70 a2 2 0 0 1 -2 2 H1438 Z" fill="#000"/>
<text x="1445.9" y="39.8" font-size="12" font-weight="bold" fill="#fff" font-family="Liberation Sans, sans-serif" textLength="46.7" lengthAdjust="spacingAndGlyphs">2,450.58</text>
<path d="M1438 185.95 H1496 a2 2 0 0 1 2 2 V200.70 a2 2 0 0 1 -2 2 H1438 Z" fill="#000"/>
<text x="1445.9" y="197.8" font-size="12" font-weight="bold" fill="#fff" font-family="Liberation Sans, sans-serif" textLength="46.7" lengthAdjust="spacingAndGlyphs">2,280.57</text>
<path d="M1438 267.95 H1496 a2 2 0 0 1 2 2 V282.70 a2 2 0 0 1 -2 2 H1438 Z" fill="#000"/>
<text x="1445.9" y="279.8" font-size="12" font-weight="bold" fill="#fff" font-family="Liberation Sans, sans-serif" textLength="46.7" lengthAdjust="spacingAndGlyphs">2,193.44</text>
<path d="M1438 310.95 H1496 a2 2 0 0 1 2 2 V325.70 a2 2 0 0 1 -2 2 H1438 Z" fill="#000"/>
<text x="1445.9" y="322.8" font-size="12" font-weight="bold" fill="#fff" font-family="Liberation Sans, sans-serif" textLength="46.7" lengthAdjust="spacingAndGlyphs">2,147.28</text>
<path d="M1438 458.95 H1496 a2 2 0 0 1 2 2 V473.70 a2 2 0 0 1 -2 2 H1438 Z" fill="#000"/>
<text x="1445.9" y="470.8" font-size="12" font-weight="bold" fill="#fff" font-family="Liberation Sans, sans-serif" textLength="46.7" lengthAdjust="spacingAndGlyphs">1,987.90</text>
<path d="M1438 476.05 H1496 a2 2 0 0 1 2 2 V490.80 a2 2 0 0 1 -2 2 H1438 Z" fill="#000"/>
<text x="1445.9" y="487.9" font-size="12" font-weight="bold" fill="#fff" font-family="Liberation Sans, sans-serif" textLength="46.7" lengthAdjust="spacingAndGlyphs">1,972.75</text>
<path d="M1438 514.95 H1496 a2 2 0 0 1 2 2 V529.70 a2 2 0 0 1 -2 2 H1438 Z" fill="#000"/>
<text x="1445.9" y="526.8" font-size="12" font-weight="bold" fill="#fff" font-family="Liberation Sans, sans-serif" textLength="46.7" lengthAdjust="spacingAndGlyphs">1,928.04</text>
<path d="M1438 624.95 H1496 a2 2 0 0 1 2 2 V639.70 a2 2 0 0 1 -2 2 H1438 Z" fill="#000"/>
<text x="1445.9" y="636.8" font-size="12" font-weight="bold" fill="#fff" font-family="Liberation Sans, sans-serif" textLength="46.7" lengthAdjust="spacingAndGlyphs">1,810.48</text>
<rect x="1439" y="3" width="63" height="34" fill="#fff"/>
<rect x="1442.5" y="7.5" width="55" height="25" rx="4" fill="#fff" stroke="#e0e3eb"/>
<text x="1446.5" y="24" font-size="12" fill="#131722" font-family="Liberation Sans, sans-serif" textLength="20.4" lengthAdjust="spacingAndGlyphs">USD</text>
<path d="M1488 19.2 l2.5 2.5 l2.5 -2.5" fill="none" stroke="#131722" stroke-width="1.2"/>
<text x="35.5" y="821.7" font-size="12" fill="#555" text-anchor="middle" font-family="Liberation Sans, sans-serif">Aug</text>
<text x="178.5" y="821.7" font-size="12" fill="#555" text-anchor="middle" font-family="Liberation Sans, sans-serif">Sep</text>
<text x="307.5" y="821.7" font-size="12" fill="#555" text-anchor="middle" font-family="Liberation Sans, sans-serif">Oct</text>
<text x="443.5" y="821.7" font-size="12" fill="#555" text-anchor="middle" font-family="Liberation Sans, sans-serif">Nov</text>
<text x="579.5" y="821.7" font-size="12" fill="#555" text-anchor="middle" font-family="Liberation Sans, sans-serif">Dec</text>
<text x="709.5" y="821.7" font-size="12" font-weight="bold" fill="#333" text-anchor="middle" font-family="Liberation Sans, sans-serif">2024</text>
<text x="851.5" y="821.7" font-size="12" fill="#555" text-anchor="middle" font-family="Liberation Sans, sans-serif">Feb</text>
<text x="980.5" y="821.7" font-size="12" fill="#555" text-anchor="middle" font-family="Liberation Sans, sans-serif">Mar</text>
<text x="1110.5" y="821.7" font-size="12" fill="#555" text-anchor="middle" font-family="Liberation Sans, sans-serif">Apr</text>
<text x="1246.5" y="821.7" font-size="12" fill="#555" text-anchor="middle" font-family="Liberation Sans, sans-serif">May</text>
<text x="1388.5" y="821.7" font-size="12" fill="#555" text-anchor="middle" font-family="Liberation Sans, sans-serif">Jun</text>
<rect x="12.4" y="773" width="34.2" height="18.5" fill="#fff"/>
<g transform="translate(15.05,775.05)" fill="#131722"><path d="M0 0 H11.75 V14.75 H6.05 V5.7 H0 Z"/><circle cx="16.85" cy="2.95" r="2.95"/><path d="M23.35 0 H29.85 L23.65 14.75 H16.95 Z"/></g>
<rect x="7" y="31" width="165" height="30" fill="#fff" fill-opacity="0.47"/>
<g transform="translate(21,19)"><circle r="9" fill="#d49b00"/><path d="M-2.2 -3.8 H2.2 L3.4 -1 H-3.4 Z M-5.6 0.2 H-1.2 L0 3 H-6.8 Z M1.2 0.2 H5.6 L6.8 3 H0 Z" fill="#fff"/></g>
<text x="34.3" y="24.9" font-size="15.3" fill="#555" font-family="Liberation Sans, sans-serif" textLength="243.6" lengthAdjust="spacingAndGlyphs">CFDs on Gold (US$ / OZ) · 1D · TVC</text>
<circle cx="303" cy="19" r="9" fill="#dff2ee"/><circle cx="303" cy="19" r="4" fill="#0f9d85"/>
<text x="328.5" y="24.1" font-size="13" font-family="Liberation Sans, sans-serif" textLength="59.1" lengthAdjust="spacingAndGlyphs"><tspan fill="#555">O</tspan><tspan fill="#1e6b4a">2,326.81</tspan></text>
<text x="395.0" y="24.1" font-size="13" font-family="Liberation Sans, sans-serif" textLength="58.8" lengthAdjust="spacingAndGlyphs"><tspan fill="#555">H</tspan><tspan fill="#1e6b4a">2,341.68</tspan></text>
<text x="461.7" y="24.1" font-size="13" font-family="Liberation Sans, sans-serif" textLength="56.2" lengthAdjust="spacingAndGlyphs"><tspan fill="#555">L</tspan><tspan fill="#1e6b4a">2,326.03</tspan></text>
<text x="525.2" y="24.1" font-size="13" font-family="Liberation Sans, sans-serif" textLength="58.1" lengthAdjust="spacingAndGlyphs"><tspan fill="#555">C</tspan><tspan fill="#1e6b4a">2,332.87</tspan></text>
<text x="590.6" y="24.1" font-size="13" font-family="Liberation Sans, sans-serif" textLength="30.0" lengthAdjust="spacingAndGlyphs"><tspan fill="#555"></tspan><tspan fill="#1e6b4a">+6.95</tspan></text>
<text x="627.4" y="24.1" font-size="13" font-family="Liberation Sans, sans-serif" textLength="47.2" lengthAdjust="spacingAndGlyphs"><tspan fill="#555"></tspan><tspan fill="#1e6b4a">(+0.30%)</tspan></text>
<rect x="11.6" y="35.5" width="60.6" height="22.6" rx="4" fill="#fff" stroke="#f23645" stroke-width="1.2"/>
<text x="19.3" y="51.8" font-size="12.3" fill="#f23645" font-family="Liberation Sans, sans-serif" textLength="44.7" lengthAdjust="spacingAndGlyphs">2332.87</text>
<text x="80.8" y="51" font-size="11" fill="#131722" font-family="Liberation Sans, sans-serif" textLength="10.9" lengthAdjust="spacingAndGlyphs">22</text>
<rect x="100.7" y="35.5" width="60.6" height="22.6" rx="4" fill="#fff" stroke="#2962ff" stroke-width="1.2"/>
<text x="108.3" y="51.8" font-size="12.3" fill="#2962ff" font-family="Liberation Sans, sans-serif" textLength="44.7" lengthAdjust="spacingAndGlyphs">2333.09</text>
<text x="12.1" y="79.8" font-size="12" fill="#555" font-family="Liberation Sans, sans-serif" textLength="383.4" lengthAdjust="spacingAndGlyphs">MA Ribbon SMA close 20 SMA close 50 SMA close 100 SMA close 200</text>
<text x="404" y="78.6" font-size="12" fill="#f23645" font-family="Liberation Sans, sans-serif" textLength="49" lengthAdjust="spacingAndGlyphs">2,359.63</text>
<text x="460.6" y="78.6" font-size="12" fill="#2962ff" font-family="Liberation Sans, sans-serif" textLength="49.4" lengthAdjust="spacingAndGlyphs">2,337.32</text>
<text x="516.6" y="78.4" font-size="10.3" fill="#333" font-family="Liberation Sans, sans-serif">∅</text>
<text x="530.3" y="78.6" font-size="12" fill="#131722" font-family="Liberation Sans, sans-serif" textLength="50.5" lengthAdjust="spacingAndGlyphs">2,089.48</text>
<rect x="12.5" y="89.5" width="28" height="20" rx="3" fill="#fff" stroke="#dcdfe8"/>
<path d="M22.8 102 l3.7 -3.7 l3.7 3.7" fill="none" stroke="#131722" stroke-width="1.3"/>
<text x="12.2" y="688.6" font-size="12" fill="#555" font-family="Liberation Sans, sans-serif" textLength="67" lengthAdjust="spacingAndGlyphs">ATR 14 RMA</text>
<text x="87.6" y="688.6" font-size="12" fill="#c62828" font-family="Liberation Sans, sans-serif" textLength="31.5" lengthAdjust="spacingAndGlyphs">34.12</text>
<text x="12.2" y="730.5" font-size="12" fill="#555" font-family="Liberation Sans, sans-serif" textLength="101.5" lengthAdjust="spacingAndGlyphs">CCI 20 hlc3 SMA 5</text>
<text x="122.3" y="730.5" font-size="12" fill="#2962ff" font-family="Liberation Sans, sans-serif" textLength="38.3" lengthAdjust="spacingAndGlyphs">−72.84</text>
<defs><filter id="wmf" x="-5%" y="-10%" width="110%" height="130%"><feOffset in="SourceAlpha" dx="2" dy="2"/><feGaussianBlur stdDeviation="1.05"/><feComponentTransfer><feFuncA type="linear" slope="0.52"/></feComponentTransfer><feComposite in2="SourceAlpha" operator="out" result="sh"/><feComponentTransfer in="SourceGraphic" result="tx"><feFuncA type="linear" slope="0.74"/></feComponentTransfer><feMerge><feMergeNode in="sh"/><feMergeNode in="tx"/></feMerge></filter></defs>
<g filter="url(#wmf)"><text transform="translate(1256,792) skewX(-17)" font-family="Noto Sans CJK SC, WenQuanYi Zen Hei, sans-serif" font-weight="900" font-size="59" fill="#fff" stroke="#fff" stroke-width="0.8" textLength="236" lengthAdjust="spacingAndGlyphs">掏马财经</text></g>
<g opacity="0.8"><text font-family="Liberation Sans, sans-serif" font-weight="bold" font-style="italic" font-size="31.2" y="829.3" x="1272.6 1299.1 1326.6 1351.6 1371.1 1404.6 1429.1 1449.6 1476.1" fill="#6277b6" stroke="#6277b6" stroke-width="0.9" stroke-linejoin="round">zzrt01.cn</text>
<text font-family="Liberation Sans, sans-serif" font-weight="bold" font-style="italic" font-size="31.2" y="828" x="1271 1297.5 1325 1350 1369.5 1403 1427.5 1448 1474.5" fill="#6fbafb" stroke="#6fbafb" stroke-width="0.9" stroke-linejoin="round">zzrt01.cn</text></g>
<g transform="translate(1470.3,818.6) scale(1.07)" fill="none" stroke="#131722" stroke-width="1.1"><path d="M-3.2 -5.6 H3.2 L6.5 0 L3.2 5.6 H-3.2 L-6.5 0 Z"/><circle r="1.9"/></g>
</svg>
</body></html>
